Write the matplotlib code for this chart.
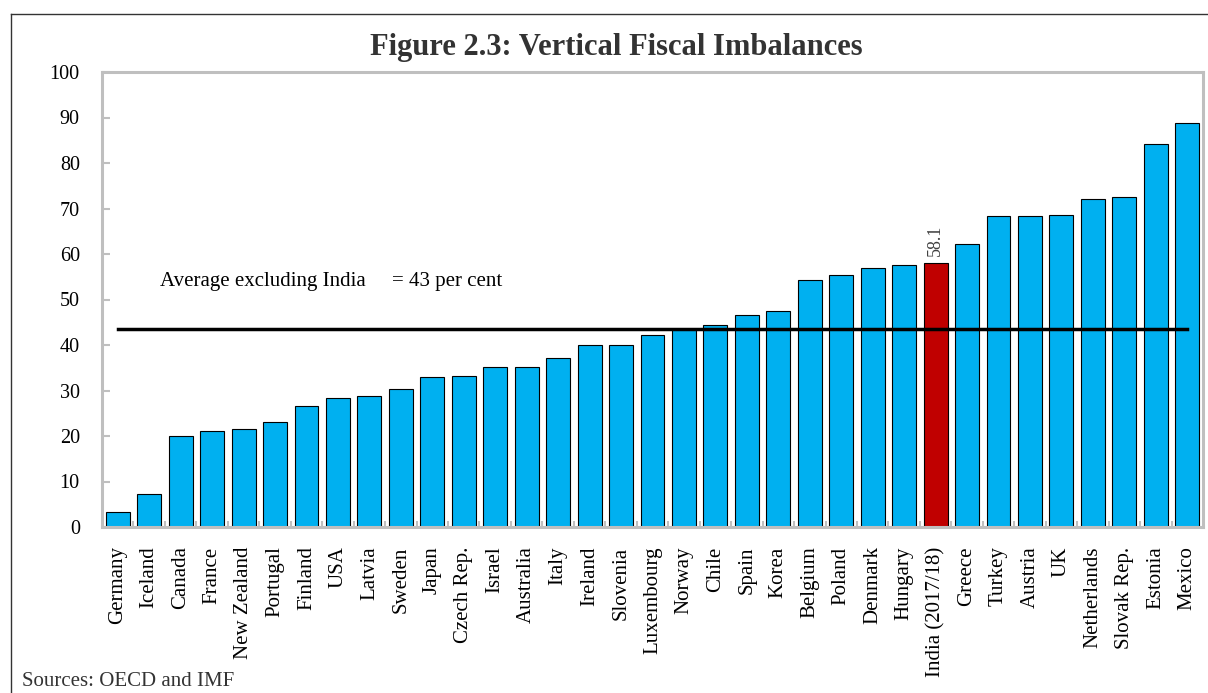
import numpy as np
import matplotlib
matplotlib.use("Agg")
import matplotlib.pyplot as plt
from matplotlib.lines import Line2D

plt.rcParams['font.family'] = ['Liberation Serif', 'DejaVu Serif']

countries = ['Germany', 'Iceland', 'Canada', 'France', 'New Zealand', 'Portugal',
             'Finland', 'USA', 'Latvia', 'Sweden', 'Japan', 'Czech Rep.', 'Israel',
             'Australia', 'Italy', 'Ireland', 'Slovenia', 'Luxembourg', 'Norway',
             'Chile', 'Spain', 'Korea', 'Belgium', 'Poland', 'Denmark', 'Hungary',
             'India (2017/18)', 'Greece', 'Turkey', 'Austria', 'UK', 'Netherlands',
             'Slovak Rep.', 'Estonia', 'Mexico']
values = [3.4, 7.2, 20.1, 21.0, 21.5, 23.0, 26.7, 28.4, 28.9, 30.3, 33.0, 33.1,
          35.1, 35.2, 37.1, 40.0, 40.1, 42.2, 43.6, 44.3, 46.5, 47.4, 54.2, 55.4,
          57.0, 57.5, 58.1, 62.2, 68.4, 68.4, 68.6, 72.0, 72.5, 84.2, 88.9]
highlight = 'India (2017/18)'
avg_line = 43.5
avg_label = 'Average excluding India     = 43 per cent'

blue = '#00B0F0'
red = '#C00000'
grey = '#BFBFBF'

fig = plt.figure(figsize=(12.08, 6.93), dpi=100)
ax = fig.add_axes([102 / 1208, 1 - 527 / 693, 1101 / 1208, 455 / 693])

x = np.arange(len(countries))
colors = [red if c == highlight else blue for c in countries]
ax.bar(x, values, width=0.76, color=colors, edgecolor='black', linewidth=0.8, zorder=2)

# average line
ax.plot([x[0], x[-1]], [avg_line, avg_line], color='black', lw=2.5, zorder=3)
ax.text(1.34, 53, avg_label, fontsize=15, va='baseline', ha='left')

# India label
i = countries.index(highlight)
ax.annotate(f'{values[i]:.1f}', (x[i], values[i]), xytext=(0, 5),
            textcoords='offset points', rotation=90, ha='center', va='bottom',
            fontsize=13, color='#404040')

ax.set_xlim(-0.5, len(countries) - 0.5)
ax.set_ylim(0, 100)
ax.set_yticks(np.arange(0, 101, 10))
ax.tick_params(axis='y', direction='in', length=5.5, width=1.5, color=grey,
               labelsize=14.5, pad=16)
ax.set_xticks(x)
ax.set_xticklabels(countries, rotation=90, fontsize=15)
ax.tick_params(axis='x', length=0, pad=14)
ax.set_xticks(x[:-1] + 0.5, minor=True)
ax.tick_params(axis='x', which='minor', direction='in', length=4, width=1.5, color=grey)

for s in ax.spines.values():
    s.set_color(grey)
    s.set_linewidth(2.2)

fig.text(0.510, 1 - 55 / 693, 'Figure 2.3: Vertical Fiscal Imbalances', ha='center',
         va='baseline', fontsize=22, fontweight='bold', color='#333333')
fig.text(22 / 1208, 2 / 693, 'Sources: OECD and IMF', ha='left', va='bottom',
         fontsize=15, color='#333333')

# outer frame (top and left edges)
fig.add_artist(Line2D([11 / 1208, 1.0], [1 - 14 / 693, 1 - 14 / 693],
                      transform=fig.transFigure, color='#333333', lw=1))
fig.add_artist(Line2D([11 / 1208, 11 / 1208], [0, 1 - 14 / 693],
                      transform=fig.transFigure, color='#333333', lw=1))

fig.savefig('out.png', dpi=100)
